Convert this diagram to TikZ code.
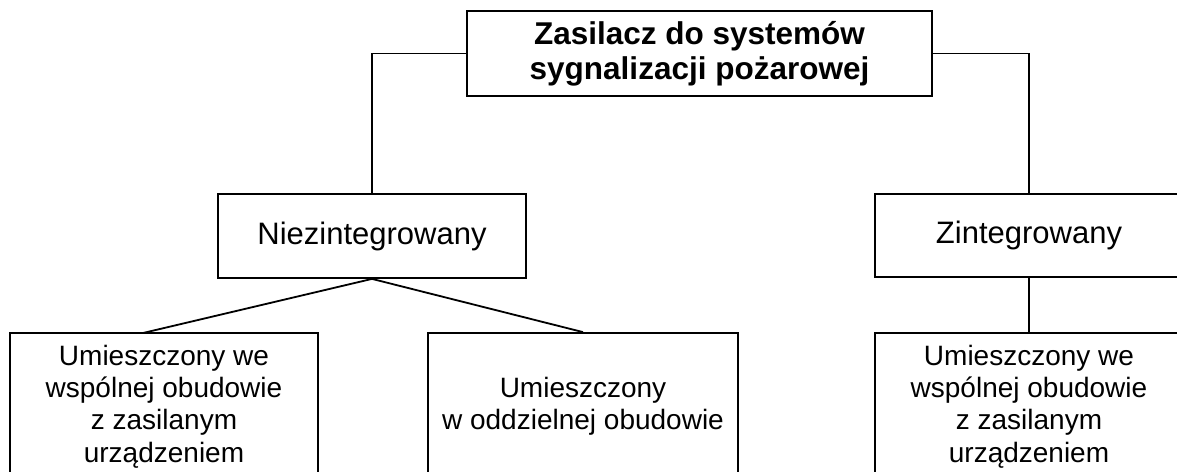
\documentclass[tikz,border=0pt]{standalone}
\usepackage{fontspec}
\setmainfont{Liberation Sans}
\begin{document}
\begin{tikzpicture}[x=1pt,y=-1pt,
  box/.style={draw,line width=1.8pt,rectangle,inner sep=0pt,align=center},
  conn/.style={line width=1.8pt}]
\useasboundingbox (0,0) rectangle (1177,471);
\clip (0,0) rectangle (1177,471);
\node[box,minimum width=465pt,minimum height=85pt,font=\bfseries\fontsize{31.5}{35}\selectfont] (top) at (699.5,53.5) {Zasilacz do systemów\\sygnalizacji pożarowej};
\node[box,minimum width=308pt,minimum height=84pt,font=\fontsize{31}{36}\selectfont] (niez) at (372,236) {Niezintegrowany};
\node[box,minimum width=308pt,minimum height=83pt,font=\fontsize{31}{36}\selectfont] (zint) at (1029,235.5) {Zintegrowany};
\node[box,minimum width=308pt,minimum height=147pt,font=\fontsize{28}{32.3}\selectfont] (b1) at (164,406.5) {Umieszczony we\\wspólnej obudowie\\z zasilanym\\urządzeniem};
\node[box,minimum width=310pt,minimum height=147pt,font=\fontsize{28}{32.3}\selectfont] (b2) at (583,406.5) {Umieszczony\\w oddzielnej obudowie};
\node[box,minimum width=308pt,minimum height=147pt,font=\fontsize{28}{32.3}\selectfont] (b3) at (1029,406.5) {Umieszczony we\\wspólnej obudowie\\z zasilanym\\urządzeniem};
\coordinate (b1top) at (143,333);
\draw[conn] (top.west) -| (niez.north);
\draw[conn] (top.east) -| (zint.north);
\draw[conn] (niez.south) -- (b1top);
\draw[conn] (niez.south) -- (b2.north);
\draw[conn] (zint.south) -- (b3.north);
\end{tikzpicture}
\end{document}
